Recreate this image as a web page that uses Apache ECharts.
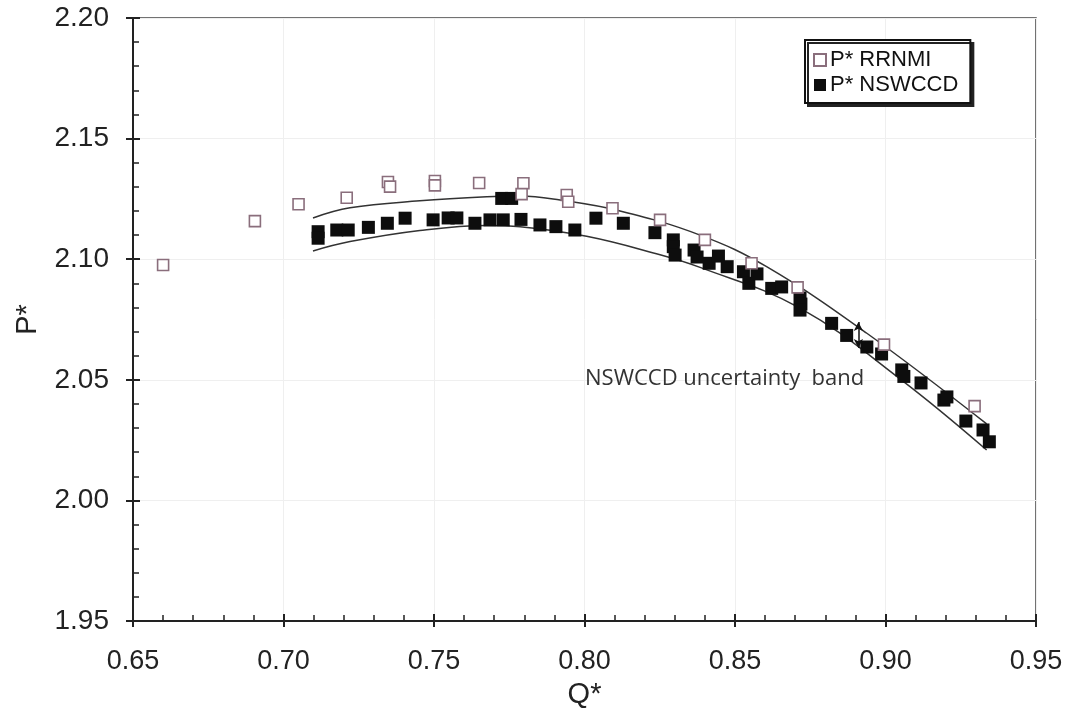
<!DOCTYPE html>
<html>
<head>
<meta charset="utf-8">
<script src="https://cdn.jsdelivr.net/npm/echarts@6/dist/echarts.min.js"></script>
<style>
  html, body { margin: 0; padding: 0; background: #fff; }
  #chart { width: 1072px; height: 725px; }
</style>
</head>
<body>
<div id="chart"></div>
<script>
// P* RRNMI (open squares)
var rrnmiQ = [0.660, 0.6905, 0.705, 0.721, 0.7347, 0.7354, 0.7503, 0.7503, 0.765, 0.7797, 0.7791, 0.7941, 0.7946, 0.8093, 0.8251, 0.840, 0.8555, 0.8708, 0.8995, 0.9296];
var rrnmiP = [2.0976, 2.1158, 2.1228, 2.1255, 2.1320, 2.1301, 2.1324, 2.1306, 2.1316, 2.1315, 2.1270, 2.1266, 2.1238, 2.1211, 2.1163, 2.1080, 2.0983, 2.0883, 2.0646, 2.0391];

// P* NSWCCD (filled squares)
var nswccdQ = [0.7115, 0.7115, 0.7177, 0.7215, 0.7282, 0.7345, 0.7404, 0.7497, 0.7547, 0.7576,
  0.7636, 0.7686, 0.7730, 0.7725, 0.7758, 0.7789, 0.7852, 0.7905, 0.7968, 0.8038,
  0.8129, 0.8234, 0.8295, 0.8295, 0.8301, 0.8364, 0.8374, 0.8414, 0.8445, 0.8474,
  0.8528, 0.8546, 0.8573, 0.8622, 0.8655, 0.8716, 0.8719, 0.8716, 0.8821, 0.8871,
  0.8938, 0.8987, 0.9054, 0.9061, 0.9118, 0.9194, 0.9204, 0.9267, 0.9324, 0.9345];
var nswccdP = [2.1114, 2.1087, 2.1121, 2.1121, 2.1132, 2.1149, 2.1170, 2.1163, 2.1171, 2.1171,
  2.1149, 2.1163, 2.1163, 2.1252, 2.1252, 2.1165, 2.1142, 2.1135, 2.1121, 2.1170,
  2.1149, 2.1110, 2.1080, 2.1052, 2.1017, 2.1038, 2.1009, 2.0983, 2.1013, 2.0969,
  2.0948, 2.0900, 2.0939, 2.0879, 2.0885, 2.0839, 2.0814, 2.0789, 2.0734, 2.0684,
  2.0636, 2.0607, 2.0541, 2.0514, 2.0487, 2.0416, 2.0429, 2.0329, 2.0292, 2.0243];

// uncertainty band edges
var upperQ = [0.7098, 0.7221, 0.7453, 0.7675, 0.7786, 0.7919, 0.8118, 0.8384, 0.8605, 0.8938, 0.9336];
var upperP = [2.1171, 2.1213, 2.1242, 2.1259, 2.1262, 2.1245, 2.1200, 2.1100, 2.0969, 2.0693, 2.0317];
var lowerQ = [0.7098, 0.7221, 0.7453, 0.7675, 0.7786, 0.8007, 0.8229, 0.8384, 0.8716, 0.9048, 0.9336];
var lowerP = [2.1034, 2.1073, 2.1119, 2.1140, 2.1135, 2.1095, 2.1026, 2.0966, 2.0797, 2.0504, 2.0209];

var arrowQ = 0.891;
var arrowP = [2.0740, 2.0632];

var xTicks = { min: 0.65, max: 0.95, step: 0.05 };
var yTicks = { min: 1.95, max: 2.20, step: 0.05 };

function pairs(xs, ys) {
  return xs.map(function (x, i) { return [x, ys[i]]; });
}

var chart = echarts.init(document.getElementById('chart'));
var font = '"Liberation Sans", Arial, sans-serif';

var option = {
  animation: false,
  backgroundColor: '#fff',
  grid: {
    left: 133, right: 36, top: 18, bottom: 104,
    show: true, borderColor: '#444', borderWidth: 1.5
  },
  legend: {
    orient: 'vertical',
    left: 805, top: 40,
    data: ['P* RRNMI', 'P* NSWCCD'],
    itemWidth: 12, itemHeight: 12, itemGap: 3,
    padding: [9, 12, 7, 8],
    backgroundColor: '#fff',
    borderColor: '#111', borderWidth: 2,
    shadowColor: '#222', shadowBlur: 0, shadowOffsetX: 3, shadowOffsetY: 3,
    textStyle: { fontFamily: font, fontSize: 22, color: '#111', padding: [0, 0, 0, -1] }
  },
  xAxis: [
    {
      type: 'value', min: xTicks.min, max: xTicks.max, interval: xTicks.step,
      name: 'Q*', nameLocation: 'middle', nameGap: 59,
      nameTextStyle: { fontFamily: font, fontSize: 29, color: '#222' },
      axisLine: { lineStyle: { color: '#222', width: 2 } },
      axisTick: { show: true, inside: false, length: 6, lineStyle: { color: '#222', width: 2 } },
      axisLabel: { fontFamily: font, fontSize: 27, color: '#222', margin: 27,
        formatter: function (v) { return v.toFixed(2); } },
      splitLine: { show: true, lineStyle: { color: '#efefef', width: 1 } }
    },
    {
      type: 'value', min: xTicks.min, max: xTicks.max, interval: xTicks.step, position: 'bottom',
      axisLine: { show: false },
      axisTick: { show: true, inside: true, length: 7, lineStyle: { color: '#222', width: 2 } },
      minorTick: { show: true, splitNumber: 5, length: 6, lineStyle: { color: '#222', width: 1.5 } },
      axisLabel: { show: false },
      splitLine: { show: false }
    }
  ],
  yAxis: [
    {
      type: 'value', min: yTicks.min, max: yTicks.max, interval: yTicks.step,
      name: 'P*', nameLocation: 'middle', nameGap: 91, nameRotate: 90,
      nameTextStyle: { fontFamily: font, fontSize: 29, color: '#222' },
      axisLine: { show: true, lineStyle: { color: '#222', width: 2 } },
      axisTick: { show: true, inside: false, length: 7, lineStyle: { color: '#222', width: 2 } },
      axisLabel: { fontFamily: font, fontSize: 28, color: '#222', margin: 24,
        formatter: function (v) { return v.toFixed(2); } },
      splitLine: { show: true, lineStyle: { color: '#efefef', width: 1 } }
    },
    {
      type: 'value', min: yTicks.min, max: yTicks.max, interval: yTicks.step, position: 'left',
      axisLine: { show: false },
      axisTick: { show: true, inside: true, length: 7, lineStyle: { color: '#222', width: 2 } },
      minorTick: { show: true, splitNumber: 5, length: 6, lineStyle: { color: '#222', width: 1.5 } },
      axisLabel: { show: false },
      splitLine: { show: false }
    }
  ],
  series: [
    {
      name: 'band upper', type: 'line', smooth: 0.4, symbol: 'none',
      data: pairs(upperQ, upperP),
      lineStyle: { color: '#333', width: 1.5 }, z: 1
    },
    {
      name: 'band lower', type: 'line', smooth: 0.4, symbol: 'none',
      data: pairs(lowerQ, lowerP),
      lineStyle: { color: '#333', width: 1.5 }, z: 1
    },
    {
      name: 'P* NSWCCD', type: 'scatter', symbol: 'rect', symbolSize: 13,
      data: pairs(nswccdQ, nswccdP),
      itemStyle: { color: '#0d0d0d', opacity: 1 }, z: 3,
      markLine: {
        silent: true, symbol: ['arrow', 'arrow'], symbolSize: [7, 9],
        label: { show: false },
        lineStyle: { color: '#111', width: 1.5, type: 'solid' },
        data: [[{ coord: [arrowQ, arrowP[0]] }, { coord: [arrowQ, arrowP[1]] }]]
      }
    },
    {
      name: 'P* RRNMI', type: 'scatter', symbol: 'rect', symbolSize: 11,
      data: pairs(rrnmiQ, rrnmiP),
      itemStyle: { color: '#fff', borderColor: '#8a6e7c', borderWidth: 1.6, opacity: 1 }, z: 4
    }
  ],
  graphic: [
    {
      type: 'text', left: 585, top: 368, z: 10,
      style: {
        text: 'NSWCCD uncertainty  band',
        fontFamily: '"Open Sans", "Noto Sans", sans-serif', fontSize: 22, fill: '#333'
      }
    }
  ]
};

chart.setOption(option);
</script>
</body>
</html>
